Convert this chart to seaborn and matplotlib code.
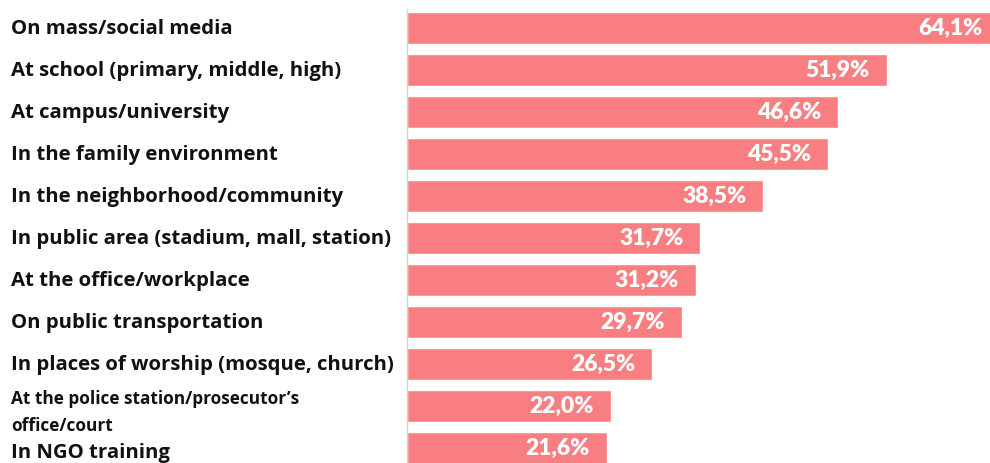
import matplotlib
matplotlib.use("Agg")
import matplotlib.pyplot as plt
import matplotlib.transforms as mtransforms
import seaborn as sns
import pandas as pd

locations = [
    "On mass/social media",
    "At school (primary, middle, high)",
    "At campus/university",
    "In the family environment",
    "In the neighborhood/community",
    "In public area (stadium, mall, station)",
    "At the office/workplace",
    "On public transportation",
    "In places of worship (mosque, church)",
    "At the police station/prosecutor\u2019s\noffice/court",
    "In NGO training",
]
shares = [64.1, 51.9, 46.6, 45.5, 38.5, 31.7, 31.2, 29.7, 26.5, 22.0, 21.6]

df = pd.DataFrame({"location": locations, "share": shares})

sns.set_theme(style="white")
plt.rcParams["font.family"] = ["Open Sans", "DejaVu Sans"]

W, H = 990, 463
fig = plt.figure(figsize=(W / 100, H / 100), dpi=100)
x0 = 407
ax = fig.add_axes([x0 / W, 0, 1 - x0 / W, 1])

bar_color = "#F87E82"
sns.barplot(data=df, x="share", y="location", orient="h", color=bar_color,
            width=0.74, saturation=1, ax=ax)

# pixel geometry: first bar centre at 28 px, 42 px per row
pitch, c0 = 42.0, 28.0
ax.set_ylim((H - c0) / pitch, -c0 / pitch)
ax.set_xlim(0, (W - x0) / 9.25)

for s in ["top", "right", "bottom"]:
    ax.spines[s].set_visible(False)
ax.spines["left"].set_color("#d4d4d4")
ax.spines["left"].set_linewidth(1.0)
ax.spines["left"].set_bounds((H - c0) / pitch, -(c0 - 9) / pitch)
ax.set_xticks([])
ax.set_yticks([])
ax.set_xlabel("")
ax.set_ylabel("")

# category labels, left-aligned near the figure edge
trans = mtransforms.blended_transform_factory(fig.transFigure, ax.transData)
for i, lab in enumerate(locations):
    if "\n" in lab:
        ax.text(11 / W, i + 0.16, lab, transform=trans, ha="left", va="center",
                fontsize=12.4, fontweight="bold", color="#111111",
                linespacing=1.62, clip_on=False)
    else:
        dy = 0.12 if i == len(locations) - 1 else 0.02
        ax.text(11 / W, i + dy, lab, transform=trans, ha="left", va="center",
                fontsize=14.7, fontweight="bold", color="#111111", clip_on=False)

# value labels inside bar ends
pad = mtransforms.offset_copy(ax.transData, fig=fig, x=-17, y=0, units="dots")
for i, v in enumerate(shares):
    ax.text(v, i + 0.02, f"{v:.1f}%".replace(".", ","), transform=pad, ha="right",
            va="center", fontsize=16.5, fontweight="heavy", color="white",
            family=["Lato", "DejaVu Sans"], clip_on=False)

fig.savefig("out.png", dpi=100)
